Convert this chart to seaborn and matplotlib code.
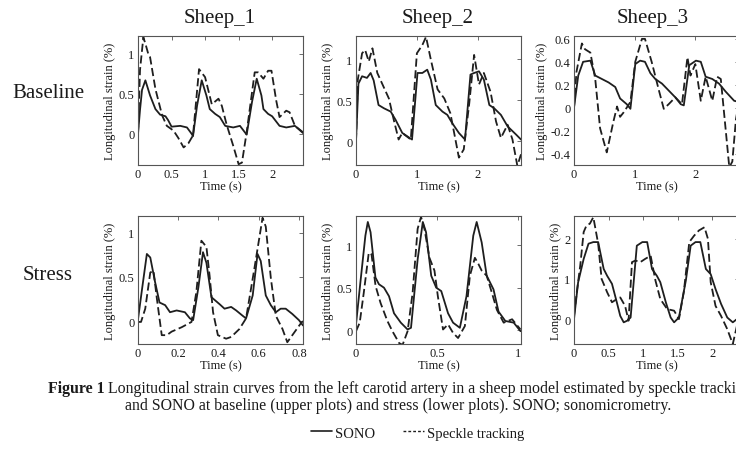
import numpy as np
import pandas as pd
import seaborn as sns
import matplotlib
matplotlib.use('Agg')
import matplotlib.pyplot as plt
from matplotlib.ticker import FuncFormatter, FixedLocator
from matplotlib.lines import Line2D

sns.set_theme(style='white')
plt.rcParams['font.family'] = ['Liberation Serif', 'DejaVu Serif']
plt.rcParams['axes.unicode_minus'] = False

# ---------------- data ----------------
sheep_names = ['Sheep_1', 'Sheep_2', 'Sheep_3']
row_names = ['Baseline', 'Stress']
series_names = ['SONO', 'Speckle tracking']

# Baseline, Sheep_1
b1_t_sono = [0, 0.03, 0.06, 0.11, 0.18, 0.26, 0.33, 0.41, 0.45, 0.5, 0.63, 0.73, 0.8, 0.82, 0.88, 0.95, 1.02, 1.07, 1.15, 1.22, 1.3, 1.42, 1.52, 1.62, 1.7, 1.77, 1.84, 1.87, 1.94, 2.0, 2.11, 2.21, 2.34, 2.46]
b1_sono = [0, 0.3, 0.55, 0.67, 0.48, 0.31, 0.24, 0.22, 0.17, 0.09, 0.1, 0.08, 0.0, -0.03, 0.35, 0.67, 0.48, 0.31, 0.25, 0.21, 0.1, 0.08, 0.1, -0.01, 0.4, 0.69, 0.48, 0.31, 0.25, 0.22, 0.1, 0.08, 0.1, 0.01]
b1_t_st = [0, 0.03, 0.08, 0.12, 0.16, 0.18, 0.26, 0.36, 0.43, 0.53, 0.6, 0.68, 0.75, 0.82, 0.91, 1.0, 1.1, 1.2, 1.25, 1.32, 1.42, 1.5, 1.55, 1.62, 1.74, 1.79, 1.87, 1.94, 1.99, 2.06, 2.11, 2.21, 2.26, 2.34, 2.46]
b1_st = [0, 0.8, 1.21, 1.1, 0.98, 0.96, 0.56, 0.23, 0.10, 0.04, -0.05, -0.17, -0.12, -0.02, 0.81, 0.71, 0.37, 0.44, 0.35, 0.12, -0.15, -0.38, -0.36, 0.02, 0.77, 0.77, 0.69, 0.79, 0.79, 0.42, 0.21, 0.29, 0.27, 0.1, 0.02]

# Baseline, Sheep_2
b2_t_sono = [0, 0.04, 0.1, 0.18, 0.24, 0.29, 0.37, 0.46, 0.57, 0.65, 0.76, 0.84, 0.92, 1.01, 1.09, 1.17, 1.23, 1.31, 1.42, 1.5, 1.58, 1.69, 1.79, 1.88, 1.94, 2.02, 2.1, 2.19, 2.27, 2.38, 2.49, 2.63, 2.71]
b2_sono = [0, 0.7, 0.79, 0.77, 0.83, 0.74, 0.44, 0.4, 0.36, 0.26, 0.1, 0.06, 0.02, 0.83, 0.83, 0.87, 0.75, 0.44, 0.36, 0.32, 0.22, 0.1, 0.02, 0.81, 0.83, 0.85, 0.75, 0.44, 0.4, 0.32, 0.18, 0.08, 0.02]
b2_t_st = [0, 0.03, 0.1, 0.15, 0.21, 0.27, 0.35, 0.46, 0.54, 0.62, 0.7, 0.76, 0.9, 1.0, 1.09, 1.15, 1.23, 1.34, 1.45, 1.55, 1.69, 1.77, 1.86, 1.94, 2.02, 2.1, 2.21, 2.3, 2.38, 2.49, 2.57, 2.65, 2.71]
b2_st = [0.0, 0.75, 1.07, 1.11, 0.97, 1.13, 0.83, 0.65, 0.52, 0.26, 0.02, 0.1, 0.02, 1.07, 1.17, 1.27, 0.99, 0.63, 0.52, 0.34, -0.2, -0.1, 0.46, 1.05, 0.69, 0.83, 0.6, 0.24, 0.04, 0.2, 0.02, -0.3, -0.16]

# Baseline, Sheep_3
b3_t_sono = [0, 0.07, 0.15, 0.27, 0.35, 0.46, 0.57, 0.68, 0.76, 0.87, 0.93, 1.01, 1.09, 1.17, 1.26, 1.34, 1.45, 1.56, 1.67, 1.76, 1.81, 1.9, 2.01, 2.09, 2.17, 2.28, 2.39, 2.5, 2.64, 2.72]
b3_sono = [0, 0.28, 0.4, 0.41, 0.28, 0.25, 0.22, 0.18, 0.08, 0.03, -0.01, 0.38, 0.41, 0.4, 0.3, 0.25, 0.21, 0.15, 0.09, 0.03, 0.02, 0.37, 0.41, 0.4, 0.27, 0.25, 0.21, 0.14, 0.06, 0.05]
b3_t_st = [0, 0.04, 0.13, 0.18, 0.27, 0.35, 0.43, 0.54, 0.65, 0.71, 0.76, 0.82, 0.93, 1.01, 1.12, 1.17, 1.28, 1.4, 1.48, 1.56, 1.67, 1.78, 1.87, 1.92, 2.0, 2.09, 2.17, 2.28, 2.36, 2.42, 2.56, 2.61, 2.67, 2.72]
b3_st = [0, 0.31, 0.56, 0.51, 0.48, 0.25, -0.18, -0.39, -0.12, 0.01, -0.08, -0.04, 0.05, 0.4, 0.6, 0.6, 0.4, 0.15, -0.01, 0.03, 0.09, 0.03, 0.44, 0.28, 0.38, 0.06, 0.27, 0.06, 0.27, 0.25, -0.52, -0.47, -0.1, 0.05]

# Stress, Sheep_1
s1_t_sono = [0, 0.02, 0.044, 0.061, 0.085, 0.107, 0.135, 0.159, 0.192, 0.233, 0.258, 0.274, 0.3, 0.323, 0.34, 0.365, 0.406, 0.43, 0.463, 0.488, 0.52, 0.537, 0.57, 0.594, 0.61, 0.635, 0.66, 0.685, 0.709, 0.734, 0.767, 0.8, 0.82]
s1_sono = [0.02, 0.36, 0.76, 0.72, 0.44, 0.21, 0.18, 0.1, 0.12, 0.1, 0.03, 0.01, 0.38, 0.78, 0.66, 0.27, 0.19, 0.14, 0.16, 0.12, 0.06, 0.03, 0.29, 0.76, 0.68, 0.29, 0.18, 0.1, 0.14, 0.14, 0.08, 0.01, -0.05]
s1_t_st = [0, 0.015, 0.036, 0.061, 0.077, 0.094, 0.118, 0.143, 0.167, 0.217, 0.266, 0.29, 0.315, 0.34, 0.356, 0.373, 0.397, 0.438, 0.463, 0.504, 0.537, 0.578, 0.619, 0.635, 0.66, 0.685, 0.718, 0.742, 0.767, 0.808, 0.82]
s1_st = [-0.01, -0.01, 0.14, 0.55, 0.57, 0.25, -0.16, -0.16, -0.12, -0.07, -0.01, 0.33, 0.91, 0.84, 0.51, 0.1, -0.16, -0.2, -0.18, -0.09, 0.03, 0.59, 1.17, 1.07, 0.49, 0.06, -0.09, -0.24, -0.16, -0.03, 0.0]

# Stress, Sheep_2
s2_t_sono = [0, 0.027, 0.058, 0.073, 0.09, 0.12, 0.142, 0.173, 0.204, 0.235, 0.277, 0.319, 0.34, 0.381, 0.413, 0.433, 0.465, 0.496, 0.527, 0.569, 0.6, 0.642, 0.683, 0.725, 0.746, 0.777, 0.808, 0.85, 0.881, 0.923, 0.975, 1.017]
s2_sono = [0.07, 0.56, 1.11, 1.27, 1.15, 0.62, 0.54, 0.5, 0.4, 0.2, 0.09, 0.01, 0.03, 0.83, 1.27, 1.15, 0.64, 0.5, 0.46, 0.2, 0.09, 0.03, 0.4, 1.11, 1.27, 1.03, 0.64, 0.48, 0.22, 0.11, 0.09, -0.01]
s2_t_st = [0, 0.023, 0.048, 0.079, 0.096, 0.121, 0.152, 0.194, 0.225, 0.267, 0.288, 0.319, 0.35, 0.381, 0.402, 0.423, 0.454, 0.485, 0.506, 0.538, 0.569, 0.6, 0.631, 0.673, 0.704, 0.735, 0.756, 0.777, 0.808, 0.84, 0.871, 0.913, 0.965, 1.017]
s2_st = [-0.01, 0.09, 0.44, 0.91, 0.89, 0.52, 0.32, 0.11, -0.01, -0.15, -0.17, -0.01, 0.44, 1.19, 1.33, 1.19, 0.85, 0.7, 0.4, 0.01, 0.07, -0.03, -0.09, 0.05, 0.64, 0.85, 0.78, 0.7, 0.64, 0.44, 0.24, 0.09, 0.13, 0.01]

# Stress, Sheep_3
s3_t_sono = [0, 0.06, 0.14, 0.21, 0.28, 0.35, 0.43, 0.48, 0.55, 0.62, 0.67, 0.72, 0.77, 0.82, 0.91, 0.99, 1.06, 1.13, 1.2, 1.25, 1.33, 1.4, 1.45, 1.52, 1.62, 1.69, 1.76, 1.83, 1.91, 1.98, 2.05, 2.13, 2.22, 2.3, 2.36]
s3_sono = [0, 0.92, 1.5, 1.88, 1.92, 1.92, 1.25, 1.08, 0.88, 0.42, 0.08, -0.08, -0.04, 0.04, 1.83, 1.92, 1.92, 1.25, 1.08, 0.92, 0.42, 0.04, -0.08, 0.04, 0.96, 1.83, 1.92, 1.92, 1.25, 1.12, 0.75, 0.38, 0.04, -0.08, 0.0]
s3_t_st = [0, 0.04, 0.09, 0.14, 0.18, 0.23, 0.28, 0.35, 0.4, 0.48, 0.55, 0.62, 0.67, 0.74, 0.79, 0.84, 0.89, 0.96, 1.03, 1.11, 1.18, 1.25, 1.35, 1.45, 1.52, 1.59, 1.67, 1.74, 1.81, 1.89, 1.94, 1.98, 2.05, 2.13, 2.22, 2.3, 2.36]
s3_st = [0.08, 0.67, 1.33, 2.17, 2.33, 2.38, 2.54, 1.88, 1.0, 0.67, 0.42, 0.5, 0.54, 0.33, -0.04, 1.42, 1.46, 1.42, 1.5, 1.58, 0.96, 0.5, 0.25, 0.21, 0.0, 0.67, 1.92, 2.08, 2.21, 2.29, 2.0, 0.92, 0.33, 0.08, -0.25, -0.62, -0.17]

# axis limits and tick labels
xlims = [[(0, 2.46), (0, 2.71), (0, 2.72)], [(0, 0.82), (0, 1.02), (0, 2.39)]]
ylims = [[(-0.39, 1.225), (-0.29, 1.28), (-0.5, 0.625)], [(-0.26, 1.19), (-0.16, 1.34), (-0.62, 2.57)]]
xticks = [[[0, 0.5, 1, 1.5, 2], [0, 1, 2], [0, 1, 2]], [[0, 0.2, 0.4, 0.6, 0.8], [0, 0.5, 1], [0, 0.5, 1, 1.5, 2]]]
yticks = [[[0, 0.5, 1], [0, 0.5, 1], [-0.4, -0.2, 0, 0.2, 0.4, 0.6]], [[0, 0.5, 1], [0, 0.5, 1], [0, 1, 2]]]

data = [
    [(b1_t_sono, b1_sono, b1_t_st, b1_st), (b2_t_sono, b2_sono, b2_t_st, b2_st), (b3_t_sono, b3_sono, b3_t_st, b3_st)],
    [(s1_t_sono, s1_sono, s1_t_st, s1_st), (s2_t_sono, s2_sono, s2_t_st, s2_st), (s3_t_sono, s3_sono, s3_t_st, s3_st)],
]

# ---------------- layout ----------------
W, H = 736, 456
fig = plt.figure(figsize=(W / 100, H / 100), dpi=100)
fig.patch.set_facecolor('white')

cols_px = [(138, 303), (356, 521), (574, 739)]
rows_px = [(37, 166), (217, 345)]
LC = '#1e1e1e'
TXT = '#1a1a1a'

fmt = FuncFormatter(lambda v, p: ('%g' % round(v, 3)))

for r in range(2):
    for c in range(3):
        l, rr = cols_px[c]
        t, b = rows_px[r]
        ax = fig.add_axes([l / W, 1 - b / H, (rr - l) / W, (b - t) / H])
        ts, ys, tt, yt = data[r][c]
        sns.lineplot(x=ts, y=ys, ax=ax, color=LC, lw=1.3, estimator=None, sort=False)
        sns.lineplot(x=tt, y=yt, ax=ax, color=LC, lw=1.3, estimator=None, sort=False)
        ax.lines[-1].set_dashes([4.5, 2.0])
        ax.set_xlim(*xlims[r][c])
        ax.set_ylim(*ylims[r][c])
        ax.xaxis.set_major_locator(FixedLocator(xticks[r][c]))
        ax.yaxis.set_major_locator(FixedLocator(yticks[r][c]))
        ax.xaxis.set_major_formatter(fmt)
        ax.yaxis.set_major_formatter(fmt)
        ax.tick_params(direction='in', top=True, right=True, length=3, width=0.6,
                       labelsize=9, pad=2.5, colors='#555555', labelcolor=TXT)
        for sp in ax.spines.values():
            sp.set_visible(True)
            sp.set_color('#555555')
            sp.set_linewidth(0.8)
        ax.set_xlabel('Time (s)', fontsize=9, color=TXT, labelpad=0)
        ax.set_ylabel('Longitudinal strain (%)', fontsize=9, color=TXT, labelpad=2)

# titles and row labels
title_x = [220, 438, 653]
for name, x in zip(sheep_names, title_x):
    fig.text(x / W, 1 - 19 / H, name, fontsize=15, ha='center', va='center', color=TXT)
for name, y in zip(row_names, [93, 276]):
    fig.text(48 / W, 1 - y / H, name, fontsize=15, ha='center', va='center', color=TXT)

# caption
renderer = fig.canvas.get_renderer()
cap_fs = 11.4
t1 = fig.text(48 / W, 1 - 389 / H, 'Figure 1', fontsize=cap_fs, fontweight='bold', ha='left', va='center', color=TXT)
bb = t1.get_window_extent(renderer)
fig.text((bb.x1 + 3) / W, 1 - 389 / H,
         'Longitudinal strain curves from the left carotid artery in a sheep model estimated by speckle tracking',
         fontsize=cap_fs, ha='left', va='center', color=TXT)
fig.text(398 / W, 1 - 406 / H,
         'and SONO at baseline (upper plots) and stress (lower plots). SONO; sonomicrometry.',
         fontsize=cap_fs, ha='center', va='center', color=TXT)

# legend
handles = [Line2D([], [], color=LC, lw=1.2),
           Line2D([], [], color=LC, lw=1.0, dashes=(2, 1.5))]
fig.legend(handles, series_names, loc='center', bbox_to_anchor=(418 / W, 1 - 434 / H), ncol=2,
           frameon=False, fontsize=10.5, handlelength=1.4, handletextpad=0.25, columnspacing=1.9,
           borderpad=0, labelcolor=TXT)

fig.savefig('out.png', dpi=100, facecolor='white')
